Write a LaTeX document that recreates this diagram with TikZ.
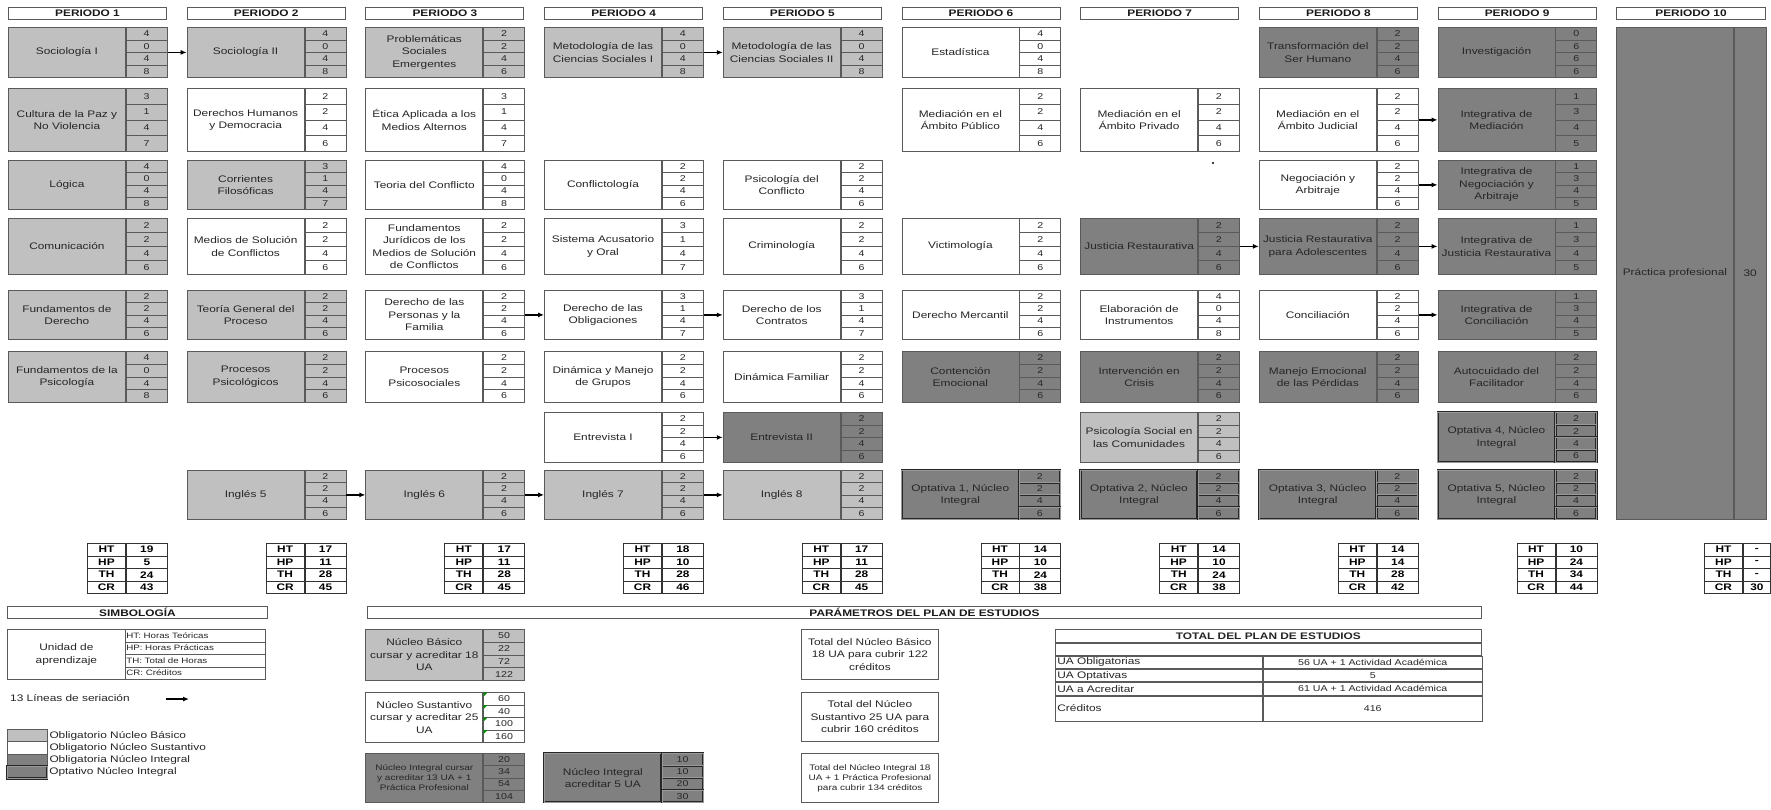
\documentclass[tikz,border=0pt]{standalone}
\usepackage{fontspec}
\setmainfont{Liberation Sans}[FakeStretch=1.25]
\usepackage{xcolor}
\usetikzlibrary{positioning}
\usetikzlibrary{arrows.meta}

\definecolor{gBasico}{HTML}{C0C0C0}
\definecolor{gIntegral}{HTML}{808080}
\definecolor{gBorde}{HTML}{5A5A5A}

\newcommand{\fmat}{\fontsize{9.5pt}{12.5pt}\selectfont}
\newcommand{\fnum}{\fontsize{8.5pt}{9pt}\selectfont}
\newcommand{\fchico}{\fontsize{8pt}{10pt}\selectfont}
\newcommand{\fmini}{\fontsize{7.8pt}{9pt}\selectfont}

\tikzstyle{materia}=[draw=gBorde, line width=0.8pt, align=center, inner sep=1pt, font=\fmat, text=black!85]
\tikzstyle{celda}=[inner sep=0pt, font=\fnum]
\tikzstyle{basico}=[fill=gBasico]
\tikzstyle{sustantivo}=[fill=white]
\tikzstyle{integral}=[fill=gIntegral]
\tikzstyle{optativo}=[fill=gIntegral, draw=black!85, line width=0.6pt, double=black!40, double distance=0.9pt]
\tikzstyle{encabezado}=[draw=gBorde, line width=1pt, fill=white, inner sep=0pt, font=\fmat\bfseries, text=black!90]
\tikzstyle{tabla}=[draw=black!80, line width=0.9pt, inner sep=0pt, minimum height=12.5, font=\fmat\bfseries]
\tikzstyle{fila}=[materia, text width=203, minimum width=207, align=left, anchor=north west]
\tikzstyle{valor}=[materia, font=\fontsize{8.5pt}{9pt}\selectfont, minimum width=219, anchor=north west]
\tikzstyle{link}=[-{Latex[length=6pt, width=5pt]}, line width=1.5pt, draw=black]

% unidad de aprendizaje: nombre, periodo, y, alto, estilo, texto, horas
\newcommand{\ua}[7]{%
  \node[materia, #5, minimum width=117, minimum height=#4, anchor=north west]
    (#1) at ({8+(#2-1)*178.7}, -#3) {#6};
  \node[materia, #5, minimum width=41, minimum height=#4, anchor=north west]
    (#1n) at (#1.north east) {};
  \foreach \h [count=\k] in {#7}
    \node[materia, #5, celda, minimum width=41, minimum height=#4/4, anchor=north west]
      (#1-\k) at ([yshift={-(\k-1)*#4/4}]#1n.north west) {\h};
}

% totales por periodo: nombre, x, ancho del valor, HT, HP, TH, CR
\newcommand{\totales}[7]{%
  \foreach \et/\va [count=\k] in {HT/#4, HP/#5, TH/#6, CR/#7} {
    \node[tabla, minimum width=38, anchor=north west] (#1-e\k) at (#2, {-543-(\k-1)*12.5}) {\et};
    \node[tabla, minimum width=#3, anchor=north west] (#1-v\k) at (#1-e\k.north east) {\va};
  }
}

\begin{document}
\begin{tikzpicture}[x=1pt, y=1pt]
  \useasboundingbox[fill=white] (0,0) rectangle (1771,-809);

  % encabezados
  \foreach \p in {1,...,9}
    \node[encabezado, minimum width=158, minimum height=12, anchor=north west] (per\p) at ({8+(\p-1)*178.7}, -7) {PERIODO \p};
  \node[encabezado, minimum width=149, minimum height=12, anchor=north west] (per10) at (1616, -7) {PERIODO 10};

  % periodo 1
  \ua{soc1}{1}{27}{50}{basico}{Sociología I}{4,0,4,8}
  \ua{paz}{1}{88}{63}{basico}{Cultura de la Paz y\\No Violencia}{3,1,4,7}
  \ua{logica}{1}{160}{49}{basico}{Lógica}{4,0,4,8}
  \ua{comun}{1}{218}{56}{basico}{Comunicación}{2,2,4,6}
  \ua{fundder}{1}{290}{49}{basico}{Fundamentos de\\Derecho}{2,2,4,6}
  \ua{fundpsi}{1}{351}{51}{basico}{Fundamentos de la\\Psicología}{4,0,4,8}

  % periodo 2
  \ua{soc2}{2}{27}{50}{basico}{Sociología II}{4,0,4,8}
  \ua{ddhh}{2}{88}{63}{sustantivo}{Derechos Humanos\\y Democracia}{2,2,4,6}
  \ua{corrientes}{2}{160}{49}{basico}{Corrientes\\Filosóficas}{3,1,4,7}
  \ua{medios}{2}{218}{56}{sustantivo}{Medios de Solución\\de Conflictos}{2,2,4,6}
  \ua{tgp}{2}{290}{49}{basico}{Teoría General del\\Proceso}{2,2,4,6}
  \ua{procpsi}{2}{351}{51}{basico}{Procesos\\Psicológicos}{2,2,4,6}
  \ua{ing5}{2}{470}{49}{basico}{Inglés 5}{2,2,4,6}

  % periodo 3
  \ua{problem}{3}{27}{50}{basico}{Problemáticas\\Sociales\\Emergentes}{2,2,4,6}
  \ua{etica}{3}{88}{63}{sustantivo}{Ética Aplicada a los\\Medios Alternos}{3,1,4,7}
  \ua{teoria}{3}{160}{49}{sustantivo}{Teoria del Conflicto}{4,0,4,8}
  \ua{fundjur}{3}{218}{56}{sustantivo}{Fundamentos\\Jurídicos de los\\Medios de Solución\\de Conflictos}{2,2,4,6}
  \ua{derpers}{3}{290}{49}{sustantivo}{Derecho de las\\Personas y la\\Familia}{2,2,4,6}
  \ua{procsoc}{3}{351}{51}{sustantivo}{Procesos\\Psicosociales}{2,2,4,6}
  \ua{ing6}{3}{470}{49}{basico}{Inglés 6}{2,2,4,6}

  % periodo 4
  \ua{met1}{4}{27}{50}{basico}{Metodología de las\\Ciencias Sociales I}{4,0,4,8}
  \ua{conflict}{4}{160}{49}{sustantivo}{Conflictología}{2,2,4,6}
  \ua{sisacus}{4}{218}{56}{sustantivo}{Sistema Acusatorio\\y Oral}{3,1,4,7}
  \ua{derobl}{4}{290}{49}{sustantivo}{Derecho de las\\Obligaciones}{3,1,4,7}
  \ua{dinman}{4}{351}{51}{sustantivo}{Dinámica y Manejo\\de Grupos}{2,2,4,6}
  \ua{entrev1}{4}{412}{50}{sustantivo}{Entrevista I}{2,2,4,6}
  \ua{ing7}{4}{470}{49}{basico}{Inglés 7}{2,2,4,6}

  % periodo 5
  \ua{met2}{5}{27}{50}{basico}{Metodología de las\\Ciencias Sociales II}{4,0,4,8}
  \ua{psicconf}{5}{160}{49}{sustantivo}{Psicología del\\Conflicto}{2,2,4,6}
  \ua{crimi}{5}{218}{56}{sustantivo}{Criminología}{2,2,4,6}
  \ua{dercont}{5}{290}{49}{sustantivo}{Derecho de los\\Contratos}{3,1,4,7}
  \ua{dinfam}{5}{351}{51}{sustantivo}{Dinámica Familiar}{2,2,4,6}
  \ua{entrev2}{5}{412}{50}{integral}{Entrevista II}{2,2,4,6}
  \ua{ing8}{5}{470}{49}{basico}{Inglés 8}{2,2,4,6}

  % periodo 6
  \ua{estad}{6}{27}{50}{sustantivo}{Estadística}{4,0,4,8}
  \ua{medpub}{6}{88}{63}{sustantivo}{Mediación en el\\Ámbito Público}{2,2,4,6}
  \ua{victi}{6}{218}{56}{sustantivo}{Victimología}{2,2,4,6}
  \ua{dermerc}{6}{290}{49}{sustantivo}{Derecho Mercantil}{2,2,4,6}
  \ua{contencion}{6}{351}{51}{integral}{Contención\\Emocional}{2,2,4,6}
  \ua{opt1}{6}{470}{49}{optativo}{Optativa 1, Núcleo\\Integral}{2,2,4,6}

  % periodo 7
  \ua{medpriv}{7}{88}{63}{sustantivo}{Mediación en el\\Ámbito Privado}{2,2,4,6}
  \ua{justres}{7}{218}{56}{integral}{Justicia Restaurativa}{2,2,4,6}
  \ua{elabor}{7}{290}{49}{sustantivo}{Elaboración de\\Instrumentos}{4,0,4,8}
  \ua{interv}{7}{351}{51}{integral}{Intervención en\\Crisis}{2,2,4,6}
  \ua{psicsoc}{7}{412}{50}{basico}{Psicología Social en\\las Comunidades}{2,2,4,6}
  \ua{opt2}{7}{470}{49}{optativo}{Optativa 2, Núcleo\\Integral}{2,2,4,6}
  \fill[black] (1213,-163) circle (1.2);

  % periodo 8
  \ua{transf}{8}{27}{50}{integral}{Transformación del\\Ser Humano}{2,2,4,6}
  \ua{medjud}{8}{88}{63}{sustantivo}{Mediación en el\\Ámbito Judicial}{2,2,4,6}
  \ua{negoc}{8}{160}{49}{sustantivo}{Negociación y\\Arbitraje}{2,2,4,6}
  \ua{jradol}{8}{218}{56}{integral}{Justicia Restaurativa\\para Adolescentes}{2,2,4,6}
  \ua{concil}{8}{290}{49}{sustantivo}{Conciliación}{2,2,4,6}
  \ua{manejo}{8}{351}{51}{integral}{Manejo Emocional\\de las Pérdidas}{2,2,4,6}
  \ua{opt3}{8}{470}{49}{optativo}{Optativa 3, Núcleo\\Integral}{2,2,4,6}

  % periodo 9
  \ua{invest}{9}{27}{50}{integral}{Investigación}{0,6,6,6}
  \ua{intmed}{9}{88}{63}{integral}{Integrativa de\\Mediación}{1,3,4,5}
  \ua{intneg}{9}{160}{49}{integral}{Integrativa de\\Negociación y\\Arbitraje}{1,3,4,5}
  \ua{intjr}{9}{218}{56}{integral}{Integrativa de\\Justicia Restaurativa}{1,3,4,5}
  \ua{intconc}{9}{290}{49}{integral}{Integrativa de\\Conciliación}{1,3,4,5}
  \ua{autoc}{9}{351}{51}{integral}{Autocuidado del\\Facilitador}{2,2,4,6}
  \ua{opt4}{9}{412}{50}{optativo}{Optativa 4, Núcleo\\Integral}{2,2,4,6}
  \ua{opt5}{9}{470}{49}{optativo}{Optativa 5, Núcleo\\Integral}{2,2,4,6}

  % periodo 10
  \node[materia, integral, minimum width=117, minimum height=492, anchor=north west] (practica) at (1616,-27) {Práctica profesional};
  \node[materia, integral, minimum width=32, minimum height=492, anchor=north west] (practican) at (practica.north east) {30};

  % lineas de seriacion
  \draw[link] (soc1n) -- (soc2);
  \draw[link] (met1n) -- (met2);
  \draw[link] (medjudn) -- (intmed);
  \draw[link] (negocn) -- (intneg);
  \draw[link] (justresn) -- (jradol);
  \draw[link] (jradoln) -- (intjr);
  \draw[link] (derpersn) -- (derobl);
  \draw[link] (derobln) -- (dercont);
  \draw[link] (conciln) -- (intconc);
  \draw[link] (entrev1n) -- (entrev2);
  \draw[link] (ing5n) -- (ing6);
  \draw[link] (ing6n) -- (ing7);
  \draw[link] (ing7n) -- (ing8);

  % totales por periodo
  \totales{t1}{87}{41}{19}{5}{24}{43}
  \totales{t2}{265.7}{41}{17}{11}{28}{45}
  \totales{t3}{444.4}{41}{17}{11}{28}{45}
  \totales{t4}{623.1}{41}{18}{10}{28}{46}
  \totales{t5}{801.8}{41}{17}{11}{28}{45}
  \totales{t6}{980.5}{41}{14}{10}{24}{38}
  \totales{t7}{1159.2}{41}{14}{10}{24}{38}
  \totales{t8}{1337.9}{41}{14}{14}{28}{42}
  \totales{t9}{1516.6}{41}{10}{24}{34}{44}
  \totales{t10}{1704}{27}{-}{-}{-}{30}

  % simbologia
  \node[encabezado, minimum width=260, minimum height=12, anchor=north west] (simb) at (7,-606) {SIMBOLOGÍA};
  \node[materia, minimum width=118, minimum height=50, anchor=north west] (unidad) at (7,-629) {Unidad de\\aprendizaje};
  \foreach \t [count=\k] in {HT: Horas Teóricas, HP: Horas Prácticas, TH: Total de Horas, CR: Créditos}
    \node[materia, font=\fmini, text width=138, align=left, minimum height=12.5, anchor=north west] (unidad-\k) at (125, {-629-(\k-1)*12.5}) {\t};
  \node[anchor=west, font=\fmat, inner sep=0pt, text=black!85] (lineas) at (10,-698) {13 Líneas de seriación};
  \coordinate (flecha-a) at (166,-699);
  \coordinate (flecha-b) at (189,-699);
  \draw[link] (flecha-a) -- (flecha-b);
  \foreach \e/\t [count=\k] in {basico/Obligatorio Núcleo Básico, sustantivo/Obligatorio Núcleo Sustantivo, integral/Obligatoria Núcleo Integral, optativo/Optativo Núcleo Integral} {
    \node[materia, \e, minimum width=40, minimum height=12.3, anchor=north west] (muestra-\k) at (7, {-729-(\k-1)*12.3}) {};
    \node[anchor=west, font=\fmat, inner sep=1.5pt, text=black!85] (leyenda-\k) at (muestra-\k.east) {\t};
  }

  % parametros del plan de estudios
  \node[encabezado, minimum width=1114, minimum height=12, anchor=north west] (param) at (367,-606) {PARÁMETROS DEL PLAN DE ESTUDIOS};
  \ua{nbasico}{3}{629}{51}{basico}{Núcleo Básico\\cursar y acreditar 18\\UA}{50,22,72,122}
  \ua{nsust}{3}{692}{50}{sustantivo}{Núcleo Sustantivo\\cursar y acreditar 25\\UA}{60,40,100,160}
  \ua{nint}{3}{753}{49}{integral, font=\fchico}{Núcleo Integral cursar\\y acreditar 13 UA + 1\\Práctica Profesional}{20,34,54,104}
  \ua{nopt}{4}{753}{49}{optativo}{Núcleo Integral\\acreditar 5 UA}{10,10,20,30}
  \foreach \k in {1,...,4}
    \fill[green!55!black] ([xshift=0.5pt, yshift=-0.5pt]nsust-\k.north west) -- ++(4,0) -- ++(-4,-4) -- cycle;

  \node[materia, minimum width=137, minimum height=50, anchor=north west] (totbas) at (801,-629) {Total del Núcleo Básico\\18 UA para cubrir 122\\créditos};
  \node[materia, minimum width=137, minimum height=49, anchor=north west] (totsust) at (801,-692) {Total del Núcleo\\Sustantivo 25 UA para\\cubrir 160 créditos};
  \node[materia, font=\fchico, minimum width=137, minimum height=49, anchor=north west] (totint) at (801,-753) {Total del Núcleo Integral 18\\UA + 1 Práctica Profesional\\para cubrir 134 créditos};

  % total del plan de estudios
  \node[materia, font=\fmat\bfseries, minimum width=426, minimum height=13, anchor=north west] (totplan) at (1055,-629) {TOTAL DEL PLAN DE ESTUDIOS};
  \node[materia, minimum width=426, minimum height=12, anchor=north west] (totplan-0) at (totplan.south west) {};
  \node[fila, minimum height=12.5] (totplan-e1) at (totplan-0.south west) {UA Obligatorias};
  \node[valor, minimum height=12.5] (totplan-v1) at (totplan-e1.north east) {56 UA + 1 Actividad Académica};
  \node[fila, minimum height=12.5] (totplan-e2) at (totplan-e1.south west) {UA Optativas};
  \node[valor, minimum height=12.5] (totplan-v2) at (totplan-e2.north east) {5};
  \node[fila, minimum height=12.5] (totplan-e3) at (totplan-e2.south west) {UA a Acreditar};
  \node[valor, minimum height=12.5] (totplan-v3) at (totplan-e3.north east) {61 UA + 1 Actividad Académica};
  \node[fila, minimum height=25] (totplan-e4) at (totplan-e3.south west) {Créditos};
  \node[valor, minimum height=25] (totplan-v4) at (totplan-e4.north east) {416};
\end{tikzpicture}
\end{document}
